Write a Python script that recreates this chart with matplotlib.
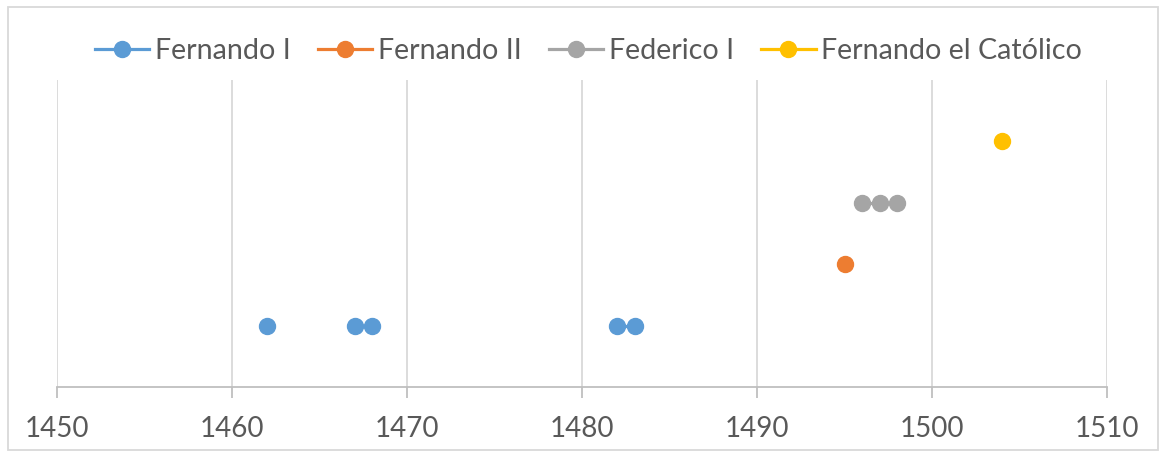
import numpy as np
import matplotlib.pyplot as plt
from matplotlib.patches import Rectangle

plt.rcParams['font.family'] = ['Lato', 'DejaVu Sans']

# datos: años de reinado (huecos = nan) y nivel de cada rey
fernando_i_years = [1462, np.nan, 1467, 1468, np.nan, 1482, 1483]
fernando_i_level = [1, np.nan, 1, 1, np.nan, 1, 1]
fernando_ii_years = [1495]
fernando_ii_level = [2]
federico_i_years = [1496, 1497, 1498]
federico_i_level = [3, 3, 3]
catolico_years = [1504]
catolico_level = [4]

series = [
    ('Fernando I', fernando_i_years, fernando_i_level, '#5B9BD5'),
    ('Fernando II', fernando_ii_years, fernando_ii_level, '#ED7D31'),
    ('Federico I', federico_i_years, federico_i_level, '#A5A5A5'),
    ('Fernando el Católico', catolico_years, catolico_level, '#FFC000'),
]
xticks = [1450, 1460, 1470, 1480, 1490, 1500, 1510]

fig = plt.figure(figsize=(11.63, 4.51), dpi=100)
ax = fig.add_axes([57/1163, 64/451, 1050/1163, 307/451])

for name, xs, ys, col in series:
    ax.plot(xs, ys, color=col, lw=2.3, marker='o', markersize=11.5, label=name)

ax.set_xlim(1450, 1510)
ax.set_ylim(0, 5)
ax.set_xticks(xticks)
ax.set_yticks([])
ax.grid(axis='x', color='#D9D9D9', lw=1.3)
ax.set_axisbelow(True)
for s in ['top', 'right', 'left']:
    ax.spines[s].set_visible(False)
ax.spines['bottom'].set_color('#BFBFBF')
ax.spines['bottom'].set_linewidth(1.3)
ax.tick_params(axis='x', colors='#BFBFBF', length=8, width=1.3, labelsize=20,
               labelcolor='#595959', pad=13)

fig.legend(loc='center', bbox_to_anchor=(0.506, 1 - 51/451), ncol=4, frameon=False,
           fontsize=20.6, labelcolor='#595959', handlelength=1.9, handletextpad=0.2,
           columnspacing=0.95)

fig.patches.append(Rectangle((8/1163, 1/451), 1150/1163, 443/451, transform=fig.transFigure,
                             fill=False, edgecolor='#D9D9D9', lw=1.3))

fig.savefig('out.png', dpi=100)
